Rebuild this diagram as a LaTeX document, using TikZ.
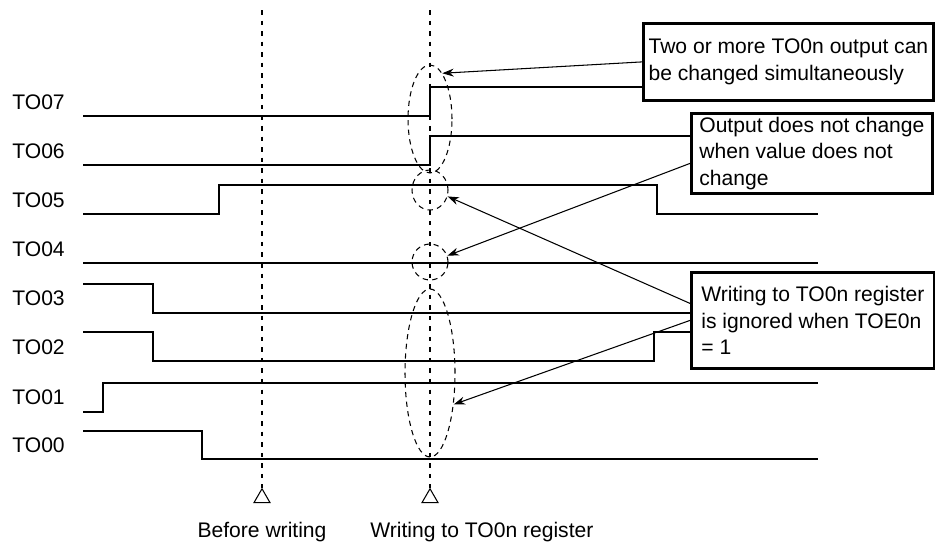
\documentclass[tikz,border=0pt]{standalone}
\usepackage{fontspec}
\setmainfont{Liberation Sans}
\usetikzlibrary{arrows.meta,calc,shapes.geometric}

\begin{document}
\begin{tikzpicture}[x=0.02cm,y=-0.02cm,
  font=\fontsize{12}{15}\selectfont,
  sig/.style={line width=1.5pt,line join=miter},
  guide/.style={line width=0.6pt,dash pattern=on 2.6pt off 3.4pt},
  ring/.style={draw,ellipse,inner sep=0pt,line width=0.6pt,dash pattern=on 3pt off 2.5pt},
  note/.style={draw,line width=1.6pt,fill=white,align=left,inner xsep=0pt,inner ysep=2pt,anchor=north west},
  pointer/.style={-{Stealth[length=6.5pt,width=4.5pt]},line width=0.6pt},
  marker/.style={draw,regular polygon,regular polygon sides=3,minimum size=0.37cm,inner sep=0pt,line width=0.6pt},
  sname/.style={anchor=base west,inner sep=0pt}]
\useasboundingbox (0,0) rectangle (935,542);

% ---- signal names
\node[sname] (n7) at (12,109) {TO07};
\node[sname] (n6) at (12,158) {TO06};
\node[sname] (n5) at (12,207) {TO05};
\node[sname] (n4) at (12,256) {TO04};
\node[sname] (n3) at (12,305) {TO03};
\node[sname] (n2) at (12,354) {TO02};
\node[sname] (n1) at (12,404) {TO01};
\node[sname] (n0) at (12,452) {TO00};

% ---- time marks
\node[marker] (m1) at (262,498) {};
\node[marker] (m2) at (430,498) {};
\draw[guide] (262,10) -- (m1.corner 1);
\draw[guide] (430,10) -- (m2.corner 1);
\node[anchor=base] (t1) at (262,537) {Before writing};
\node[anchor=base west,inner sep=0pt] (t2) at (370,537) {Writing to TO0n register};

% ---- waveforms
\draw[sig] (83,116) -- (430,116) -- (430,87) -- (642,87);
\draw[sig] (83,165) -- (430,165) -- (430,136) -- (690,136);
\draw[sig] (83,214) -- (219,214) -- (219,185) -- (657,185) -- (657,214) -- (818,214);
\draw[sig] (83,263) -- (818,263);
\draw[sig] (83,284) -- (153,284) -- (153,313) -- (690,313);
\draw[sig] (83,332) -- (153,332) -- (153,361) -- (654,361) -- (654,332) -- (690,332);
\draw[sig] (83,412) -- (103,412) -- (103,383) -- (818,383);
\draw[sig] (83,431) -- (202,431) -- (202,459) -- (818,459);

% ---- dashed rings
\node[ring,minimum width=0.88cm,minimum height=2.16cm] (e1) at (430,119) {};
\node[ring,minimum width=0.72cm,minimum height=0.8cm] (e2) at (430,190) {};
\node[ring,minimum width=0.72cm,minimum height=0.72cm] (e3) at (430,262) {};
\node[ring,minimum width=1.0cm,minimum height=3.36cm] (e4) at (430,373) {};

% ---- notes
\node[note,minimum width=5.8cm,minimum height=1.54cm] (b1) at (642,22) {Two or more TO0n output can\\be changed simultaneously};
\node[note,minimum width=4.82cm,minimum height=1.6cm] (b2) at (690,112) {Output does not change\\when value does not\\change};
\node[note,minimum width=4.86cm,minimum height=1.92cm] (b3) at (690,271) {Writing to TO0n register\\is ignored when TOE0n\\= 1};

\draw[pointer] (b1.west) -- (e1.75);
\draw[pointer] ($(b2.west)+(0,10)$) -- (e3.20);
\draw[pointer] ($(b3.west)+(0,-17)$) -- (e2.-20);
\draw[pointer] (b3.west) -- (e4.-53);
\end{tikzpicture}
\end{document}
